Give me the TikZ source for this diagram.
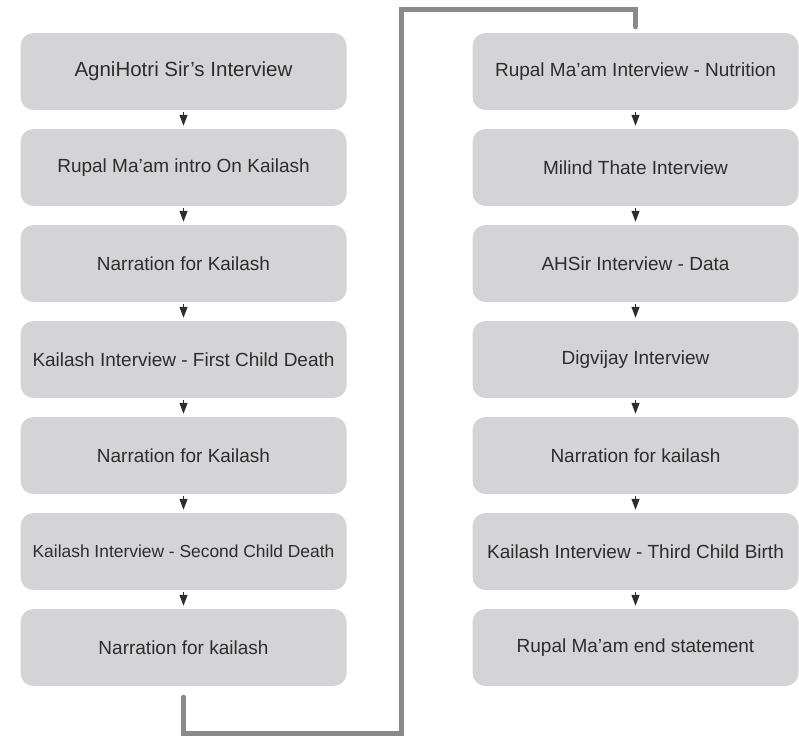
\documentclass[tikz,border=0pt]{standalone}
\usepackage{fontspec}
\setmainfont{Liberation Sans}
\usetikzlibrary{arrows.meta,positioning}
\definecolor{boxgray}{RGB}{212,212,214}
\definecolor{txtgray}{RGB}{45,45,45}
\definecolor{linkgray}{RGB}{138,138,140}

\begin{document}
\begin{tikzpicture}[x=1pt,y=-1pt,
	stage/.style={rectangle,rounded corners=13pt,fill=boxgray,text=txtgray,
		minimum width=326pt,minimum height=77pt,inner sep=0pt,
		font=\fontsize{19}{22}\selectfont},
	flowarr/.style={-{Triangle[length=11pt,width=8pt]},line width=1.2pt,color=txtgray,
		shorten <=2pt,shorten >=3pt},
	link/.style={line width=5pt,color=linkgray,line cap=round,line join=miter}]
	\useasboundingbox (0,0) rectangle (799,739);
	% left column
	\node[stage,font=\fontsize{20.5}{23}\selectfont] (l1) at (183.5,71.5) {AgniHotri Sir’s Interview};
	\node[stage] (l2) at (183.5,167.5) {Rupal Ma’am intro On Kailash};
	\node[stage] (l3) at (183.5,263.5) {Narration for Kailash};
	\node[stage] (l4) at (183.5,359.5) {Kailash Interview - First Child Death};
	\node[stage] (l5) at (183.5,455.5) {Narration for Kailash};
	\node[stage,font=\fontsize{17.4}{20}\selectfont] (l6) at (183.5,551.5) {Kailash Interview - Second Child Death};
	\node[stage] (l7) at (183.5,647.5) {Narration for kailash};
	% right column
	\node[stage] (r1) at (635.5,71.5) {Rupal Ma’am Interview - Nutrition};
	\node[stage] (r2) at (635.5,167.5) {Milind Thate Interview};
	\node[stage] (r3) at (635.5,263.5) {AHSir Interview - Data};
	\node[stage] (r4) at (635.5,359.5) {Digvijay Interview};
	\node[stage] (r5) at (635.5,455.5) {Narration for kailash};
	\node[stage] (r6) at (635.5,551.5) {Kailash Interview - Third Child Birth};
	\node[stage] (r7) at (635.5,647.5) {Rupal Ma’am end statement};
	\draw[flowarr] (l1)--(l2);
	\draw[flowarr] (l2)--(l3);
	\draw[flowarr] (l3)--(l4);
	\draw[flowarr] (l4)--(l5);
	\draw[flowarr] (l5)--(l6);
	\draw[flowarr] (l6)--(l7);
	\draw[flowarr] (r1)--(r2);
	\draw[flowarr] (r2)--(r3);
	\draw[flowarr] (r3)--(r4);
	\draw[flowarr] (r4)--(r5);
	\draw[flowarr] (r5)--(r6);
	\draw[flowarr] (r6)--(r7);
	% column link
	\draw[link] ([yshift=-11pt]l7.south) |- (401,733) -- (401,9) -| ([yshift=6pt]r1.north);
\end{tikzpicture}
\end{document}
